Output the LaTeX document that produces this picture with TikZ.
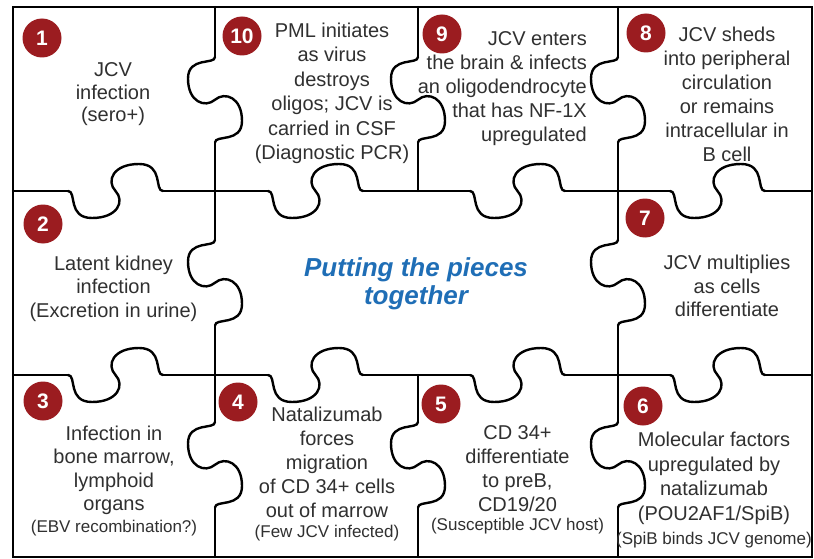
\documentclass[tikz,border=0pt]{standalone}
\usepackage{fontspec}
\setmainfont{Liberation Sans}
\definecolor{badgered}{HTML}{9B1C20}
\definecolor{txtgray}{HTML}{303030}
\definecolor{titleblue}{HTML}{1F6EB6}
\newcommand\blockc[2]{\vtop{\baselineskip=#1\relax\lineskiplimit=-100pt\lineskip=0pt\halign{\hfil##\hfil\cr#2\crcr}}}
\newcommand\blockr[2]{\vtop{\baselineskip=#1\relax\lineskiplimit=-100pt\lineskip=0pt\halign{\hfil##\cr#2\crcr}}}
\newcommand\sm{\fontsize{17}{17}\selectfont}
\tikzset{
  edge/.style={line width=2.4pt, line cap=round, line join=round, black},
  border/.style={line width=2.7pt, black},
  knob/.pic={\draw[edge] (0,0) .. controls (9,0) and (-1,27) .. (24,27)
      .. controls (50,27) and (57,10) .. (47.5,0)
      .. controls (38,-10) and (45,-27) .. (71,-27)
      .. controls (96,-27) and (86,0) .. (95,0);},
  vknob/.style={rotate=-90, xscale=0.9},
  badge/.style={circle, fill=badgered, minimum size=39pt, inner sep=0pt,
      text=white, font=\fontsize{21}{21}\selectfont\bfseries},
  body/.style={inner sep=0pt, text=txtgray, font=\fontsize{20}{24}\selectfont},
}
\begin{document}
\begin{tikzpicture}[x=1pt, y=-1pt]
\useasboundingbox (0,0) rectangle (814,559);
\fill[white] (0,0) rectangle (814,559);
% outer border
\draw[border] (13,7) rectangle (812,557);
% horizontal boundary between row 1 and row 2
\draw[edge] (13,191) -- (68,191);
\pic at (68,191) {knob};
\draw[edge] (163,191) -- (268,191);
\pic at (268,191) {knob};
\draw[edge] (363,191) -- (470,191);
\pic at (470,191) {knob};
\draw[edge] (565,191) -- (670,191);
\pic at (670,191) {knob};
\draw[edge] (765,191) -- (812,191);
% horizontal boundary between row 2 and row 3
\draw[edge] (13,375) -- (68,375);
\pic at (68,375) {knob};
\draw[edge] (163,375) -- (268,375);
\pic at (268,375) {knob};
\draw[edge] (363,375) -- (470,375);
\pic at (470,375) {knob};
\draw[edge] (565,375) -- (670,375);
\pic at (670,375) {knob};
\draw[edge] (765,375) -- (812,375);
% vertical boundary x=215
\draw[edge] (215,7) -- (215,57);
\pic[vknob] at (215,57) {knob};
\draw[edge] (215,142.5) -- (215,240);
\pic[vknob] at (215,240) {knob};
\draw[edge] (215,325.5) -- (215,422);
\pic[vknob] at (215,422) {knob};
\draw[edge] (215,507.5) -- (215,557);
% vertical boundary x=418
\draw[edge] (418,7) -- (418,57);
\pic[vknob] at (418,57) {knob};
\draw[edge] (418,142.5) -- (418,191);
\draw[edge] (418,375) -- (418,422);
\pic[vknob] at (418,422) {knob};
\draw[edge] (418,507.5) -- (418,557);
% vertical boundary x=618
\draw[edge] (618,7) -- (618,57);
\pic[vknob] at (618,57) {knob};
\draw[edge] (618,142.5) -- (618,240);
\pic[vknob] at (618,240) {knob};
\draw[edge] (618,325.5) -- (618,422);
\pic[vknob] at (618,422) {knob};
\draw[edge] (618,507.5) -- (618,557);

% badges
\node[badge] (b1) at (42,38) {1};
\node[badge] (b10) at (242,36) {10};
\node[badge] (b9) at (442,34) {9};
\node[badge] (b8) at (646,33) {8};
\node[badge] (b2) at (43,224) {2};
\node[badge] (b7) at (645,218) {7};
\node[badge] (b3) at (43,401) {3};
\node[badge] (b4) at (238,402) {4};
\node[badge] (b5) at (441,404) {5};
\node[badge] (b6) at (643,406) {6};

% texts
\node[body, anchor=base] (t1) at (113,77) {\blockc{22.5pt}{JCV\cr infection\cr (sero+)}};
\node[body, anchor=base] (t10) at (332,37.5) {\blockc{24.5pt}{PML initiates\cr as virus\cr destroys\cr oligos; JCV is\cr carried in CSF\cr (Diagnostic PCR)}};
\node[body, anchor=base east] (t9) at (587,46) {\blockr{24pt}{JCV enters\cr the brain \& infects\cr an oligodendrocyte\cr that has NF-1X\cr upregulated}};
\node[body, anchor=base] (t8) at (727,41.5) {\blockc{24pt}{JCV sheds\cr into peripheral\cr circulation\cr or remains\cr intracellular in\cr B cell}};
\node[body, anchor=base] (t2) at (113.5,270) {\blockc{23.5pt}{Latent kidney\cr infection\cr (Excretion in urine)}};
\node[body, anchor=base] (t7) at (727,269.5) {\blockc{23.5pt}{JCV multiplies\cr as cells\cr differentiate}};
\node[body, anchor=base] (t3) at (114,440) {\blockc{23.5pt}{Infection in\cr bone marrow,\cr lymphoid\cr organs\cr\noalign{\vskip-1.5pt}\sm (EBV recombination?)}};
\node[body, anchor=base] (t4) at (327,421.5) {\blockc{24pt}{Natalizumab\cr forces\cr migration\cr of CD 34+ cells\cr out of marrow\cr\noalign{\vskip-4pt}\sm (Few JCV infected)}};
\node[body, anchor=base] (t5) at (517.5,439.5) {\blockc{24pt}{CD 34+\cr differentiate\cr to preB,\cr CD19/20\cr\noalign{\vskip-5pt}\sm (Susceptible JCV host)}};
\node[body, anchor=base] (t6) at (714,446.5) {\blockc{24.5pt}{Molecular factors\cr upregulated by\cr natalizumab\cr (POU2AF1/SpiB)\cr\noalign{\vskip0pt}\sm (SpiB binds JCV genome)}};
\node[inner sep=0pt, anchor=base, text=titleblue, font=\fontsize{26}{28}\selectfont\bfseries\itshape] (title) at (416,276) {\blockc{28.5pt}{Putting the pieces\cr together}};
\end{tikzpicture}
\end{document}
